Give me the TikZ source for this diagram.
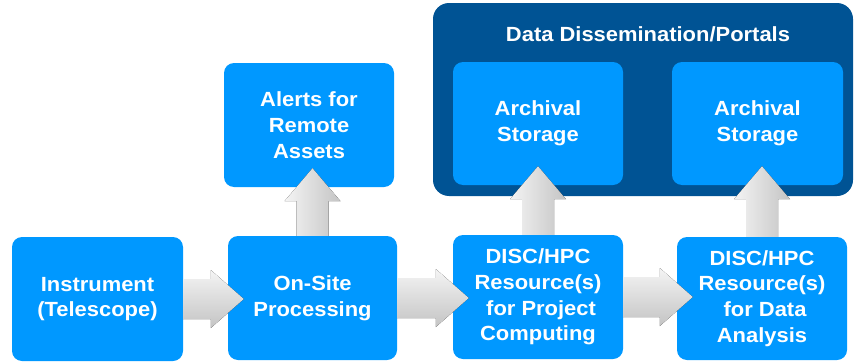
\documentclass[tikz,border=0pt]{standalone}
\usepackage{fontspec}
\setmainfont{Liberation Sans}[FakeStretch=1.07]
\usetikzlibrary{calc}
\definecolor{boxblue}{RGB}{0,152,255}
\definecolor{darkblue}{RGB}{0,83,148}
\definecolor{arrlight}{RGB}{244,244,244}
\definecolor{arrdark}{RGB}{196,196,196}
\newcommand\hflow[2]{%
  \fill[harrow] let \p1=(#1.east), \p2=(#2.west) in
    (\x1,\y1+20pt) -- (\x2-17pt,\y1+20pt) -- (\x2-17pt,\y1+29pt) --
    (\x2+16pt,\y1) -- (\x2-17pt,\y1-29pt) -- (\x2-17pt,\y1-20pt) --
    (\x1,\y1-20pt) -- cycle;}
\newcommand\vflow[2]{%
  \fill[varrow] let \p1=(#1.north), \p2=(#2.south) in
    (\x1-16pt,\y1) -- (\x1-16pt,\y2-14pt) -- (\x1-28pt,\y2-14pt) --
    (\x1,\y2+19pt) -- (\x1+28pt,\y2-14pt) -- (\x1+16pt,\y2-14pt) --
    (\x1+16pt,\y1) -- cycle;}
\begin{document}
\begin{tikzpicture}[x=1pt,y=-1pt,
  lbox/.style={fill=boxblue, draw=none, rounded corners=10pt, text=white,
    align=center, inner sep=0pt, minimum width=170pt, minimum height=124pt,
    font=\fontsize{20.5}{25.7}\selectfont\bfseries},
  container/.style={fill=darkblue, draw=none, rounded corners=16pt,
    minimum width=420pt, minimum height=193pt, inner sep=0pt},
  titletext/.style={text=white, font=\fontsize{20.5}{25.7}\selectfont\bfseries, inner sep=0pt},
  harrow/.style={top color=arrlight, bottom color=arrdark},
  varrow/.style={left color=arrlight, right color=arrdark}]
\useasboundingbox (0,0) rectangle (854,364);
\node[container] (portal) at (643,99.5) {};
\node[titletext] (ptitle) at (648,34.5) {Data Dissemination/Portals};
\node[lbox, minimum width=171pt] (inst) at (97.5,299) {Instrument\\(Telescope)};
\node[lbox, minimum width=169pt] (onsite) at (312.5,298) {On-Site\\Processing};
\node[lbox] (alerts) at (309,125) {Alerts for\\Remote\\Assets};
\node[lbox] (disc1) at (538,297) {DISC/HPC\\Resource(s)\\\ for Project\\Computing};
\node[lbox, minimum height=123pt] (disc2) at (762,298.5) {DISC/HPC\\Resource(s)\\\ for Data\\Analysis};
\node[lbox, minimum height=123pt] (arch1) at (538,123.5) {Archival\\Storage};
\node[lbox, minimum width=171pt, minimum height=123pt] (arch2) at (757.5,123.5) {Archival\\Storage};
\hflow{inst}{onsite}
\hflow{onsite}{disc1}
\hflow{disc1}{disc2}
\vflow{onsite}{alerts}
\vflow{disc1}{arch1}
\vflow{disc2}{arch2}
\end{tikzpicture}
\end{document}
